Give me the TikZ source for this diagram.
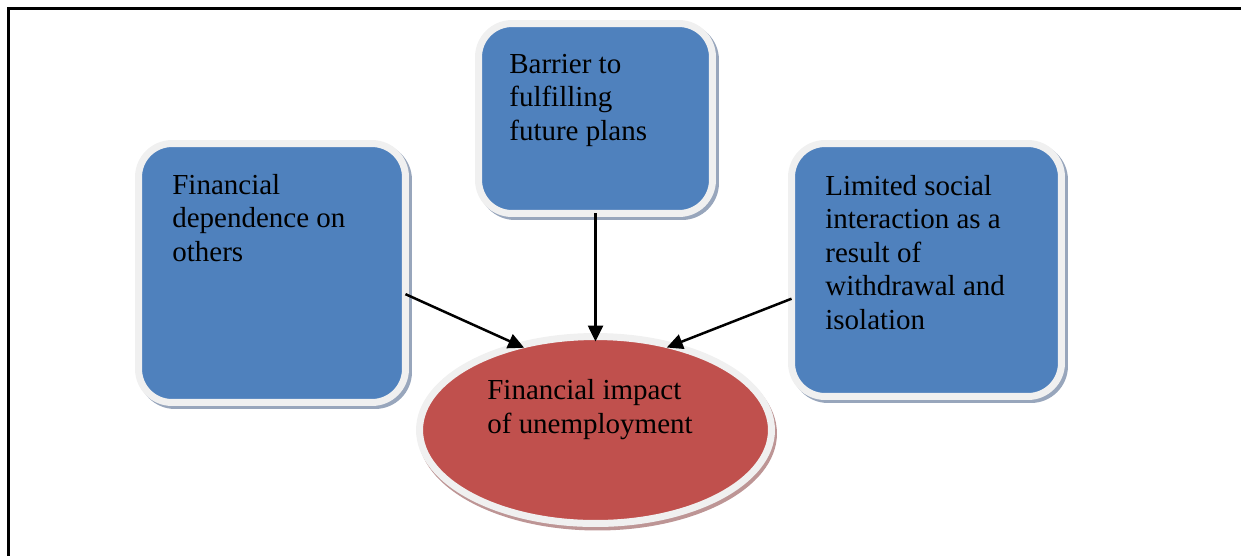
\documentclass[tikz,border=0pt]{standalone}
\usepackage{fontspec}
\setmainfont{Liberation Serif}
\usetikzlibrary{shapes.geometric,shadows,arrows.meta}

\definecolor{boxBlue}{HTML}{4F81BD}
\definecolor{impactRed}{HTML}{C0504D}
\definecolor{rimGray}{HTML}{F0F0F0}
\definecolor{shadowBlue}{HTML}{98A6BC}
\definecolor{shadowRed}{HTML}{BD9595}

\begin{document}
\begin{tikzpicture}[x=0.02cm,y=-0.02cm,
    rim/.style={draw=rimGray, line width=0.14cm, outer sep=0pt},
    bluebox/.style={rim, fill=boxBlue, rounded corners=0.67cm,
        drop shadow={shadow xshift=0.06cm, shadow yshift=-0.06cm,
            fill=shadowBlue, draw=shadowBlue, opacity=1}},
    redoval/.style={rim, ellipse, fill=impactRed,
        drop shadow={shadow xshift=0.04cm, shadow yshift=-0.07cm,
            fill=shadowRed, draw=shadowRed, opacity=1}},
    boxtext/.style={anchor=base west, align=left, inner sep=0pt,
        font=\fontsize{16.5pt}{19pt}\selectfont},
    link/.style={-{Triangle[length=0.32cm,width=0.3cm]}, line width=0.05cm,
        shorten >=-0.1cm}]

    \useasboundingbox (0,0) rectangle (1241,556);

    % Frame (top and left only)
    \draw[line width=0.06cm] (1241,8) -- (8.5,8) -- (8.5,556);

    % Draw boxes
    \node[bluebox, minimum width=5.34cm, minimum height=5.18cm] (finDep) at (272,273) {};
    \node[bluebox, minimum width=4.68cm, minimum height=3.8cm] (barrier) at (595.5,118.5) {};
    \node[bluebox, minimum width=5.4cm, minimum height=5.06cm] (limSoc) at (926.5,270) {};

    % Central ellipse
    \node[redoval, minimum width=7.04cm, minimum height=3.74cm] (impact) at (595.5,430) {};

    % Box texts (placed at the baseline of their last line)
    \node[boxtext] (finDepText) at (172,261) {Financial\\dependence on\\others};
    \node[boxtext] (barrierText) at (509,140) {Barrier to\\fulfilling\\future plans};
    \node[boxtext] (limSocText) at (825,329) {Limited social\\interaction as a\\result of\\withdrawal and\\isolation};
    \node[boxtext] (impactText) at (487,433) {Financial impact\\of unemployment};

    % Arrows into the ellipse
    \draw[link] (finDep.-9) -- (impact.132);
    \draw[link] (barrier.south) -- (impact.north);
    \draw[link] (limSoc.192) -- (impact.48);
\end{tikzpicture}
\end{document}
